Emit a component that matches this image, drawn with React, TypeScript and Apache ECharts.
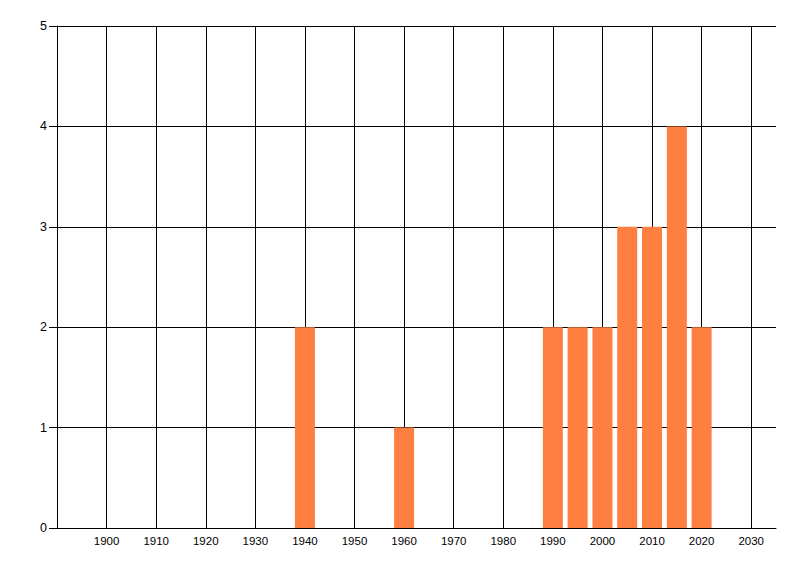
import React, { useEffect, useRef } from 'react'
import * as echarts from 'echarts'

const years = [1940, 1960, 1990, 1995, 2000, 2005, 2010, 2015, 2020]
const counts = [2, 1, 2, 2, 2, 3, 3, 4, 2]

const App: React.FC = () => {
  const chartRef = useRef<HTMLDivElement>(null)

  useEffect(() => {
    if (!chartRef.current) return
    const chart = echarts.init(chartRef.current, undefined, { renderer: 'svg' })

    const font = { color: '#000', fontFamily: 'Liberation Sans', fontSize: 11.5 }

    chart.setOption({
      animation: false,
      backgroundColor: '#fff',
      grid: { left: 57, top: 26, right: 24, bottom: 48, containLabel: false },
      xAxis: {
        type: 'value',
        min: 1890,
        max: 2035,
        interval: 10,
        axisLine: { show: true, onZero: false, lineStyle: { color: '#000', width: 1 } },
        axisTick: { show: false },
        splitLine: { show: true, showMaxLine: false, lineStyle: { color: '#000', width: 1 } },
        axisLabel: {
          ...font,
          margin: 7,
          showMinLabel: false,
          showMaxLabel: false,
          formatter: (v: number) => (v === 1890 || v === 2035 ? '' : String(v))
        }
      },
      yAxis: {
        type: 'value',
        min: 0,
        max: 5,
        interval: 1,
        axisLine: { show: true, lineStyle: { color: '#000', width: 1 } },
        axisTick: { show: true, length: 8, lineStyle: { color: '#000' } },
        splitLine: { show: true, lineStyle: { color: '#000', width: 1 } },
        axisLabel: { ...font, fontSize: 12.5, margin: 10 }
      },
      series: [
        {
          type: 'bar',
          barWidth: 20,
          itemStyle: { color: '#ff7f41' },
          data: years.map((y, i) => [y, counts[i]])
        }
      ]
    })

    return () => {
      chart.dispose()
    }
  }, [])

  return (
    <div
      ref={chartRef}
      style={{ position: 'absolute', left: 0, top: 0, width: '800px', height: '576px' }}
    />
  )
}

export default App
